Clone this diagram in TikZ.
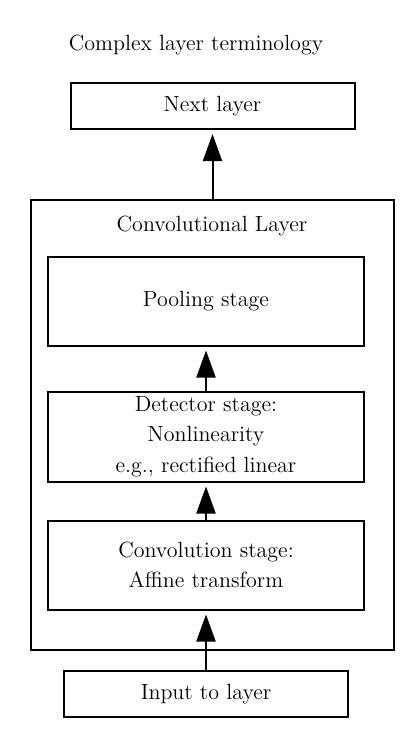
\documentclass[tikz,border=0pt]{standalone}
\usetikzlibrary{arrows.meta}
\begin{document}
\begin{tikzpicture}[x=0.5pt,y=-0.5pt,
  box/.style={draw,line width=1pt,minimum width=142pt,inner sep=0pt,align=center},
  conn/.style={line width=1pt,-{Triangle[length=13.5pt,width=9.5pt]},shorten >=2pt},
  every node/.style={font=\fontsize{11}{15.25}\selectfont}]
\useasboundingbox (0,0) rectangle (402,744);
\node (title) at (196,45) {Complex layer terminology};
\node[box,minimum width=142pt,minimum height=23pt] (next) at (212.5,106) {Next layer};
\node[draw,line width=1pt,inner sep=0pt,minimum width=181.5pt,minimum height=225pt] (conv) at (212,425) {};
\node (convlabel) at (212,226) {Convolutional Layer};
\node[box,minimum width=158pt,minimum height=44.5pt] (pool) at (206,301) {Pooling stage};
\node[box,minimum width=158pt,minimum height=45pt] (det) at (206,436.5) {Detector stage:\\Nonlinearity\\e.g., rectified linear};
\node[box,minimum width=158pt,minimum height=44.5pt] (cst) at (206,565) {Convolution stage:\\Affine transform};
\node[box,minimum width=142pt,minimum height=23pt] (input) at (206,694) {Input to layer};
\draw[conn] (conv.north -| next) -- (next.south);
\draw[conn] (det.north) -- (pool.south);
\draw[conn] (cst.north) -- (det.south);
\draw[conn] (input.north) -- (cst.south);
\end{tikzpicture}
\end{document}
